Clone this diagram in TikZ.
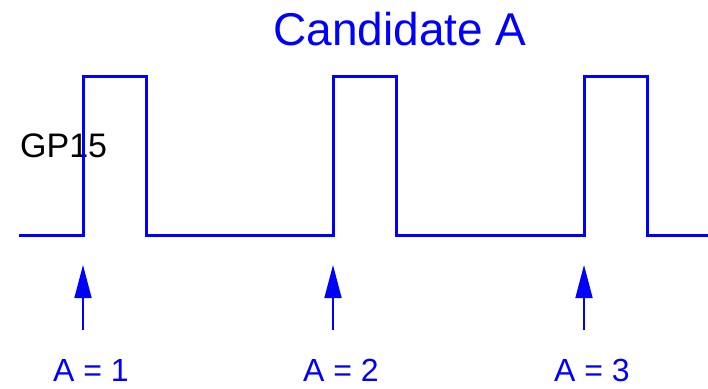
\documentclass[tikz,border=0pt]{standalone}
\usepackage{fontspec}
\setmainfont{Liberation Sans}
\usetikzlibrary{arrows.meta}
\definecolor{wblue}{RGB}{0,0,255}
\tikzset{
  wave/.style={draw=wblue, line width=3pt, line join=miter},
  marker/.style={draw=wblue, line width=1.6pt, -{Triangle[length=33pt,width=17pt]}},
  lbl/.style={text=wblue, inner sep=0pt, anchor=base, font=\fontsize{32}{36}\selectfont},
}
\begin{document}
\begin{tikzpicture}[x=1pt,y=-1pt]
\useasboundingbox (0,0) rectangle (708,388);
\node[text=wblue, inner sep=0pt, anchor=base, font=\fontsize{46}{50}\selectfont] (title) at (400,45) {Candidate A};
\node[inner sep=0pt, anchor=base west, font=\fontsize{34}{38}\selectfont] (gp) at (20,157) {GP15};
\draw[wave] (19,235) -- (83,235) -- (83,76) -- (146,76) -- (146,235) -- (333,235) -- (333,76) -- (396,76) -- (396,235) -- (584,235) -- (584,76) -- (647,76) -- (647,235) -- (708,235);
\foreach \i/\x in {1/83,2/333,3/584}{
  \coordinate (t\i) at (\x,330);
  \coordinate (h\i) at (\x,265);
  \draw[marker] (t\i) -- (h\i);
  \node[lbl] (l\i) at (\x+8,381) {A = \i};
}
\end{tikzpicture}
\end{document}
